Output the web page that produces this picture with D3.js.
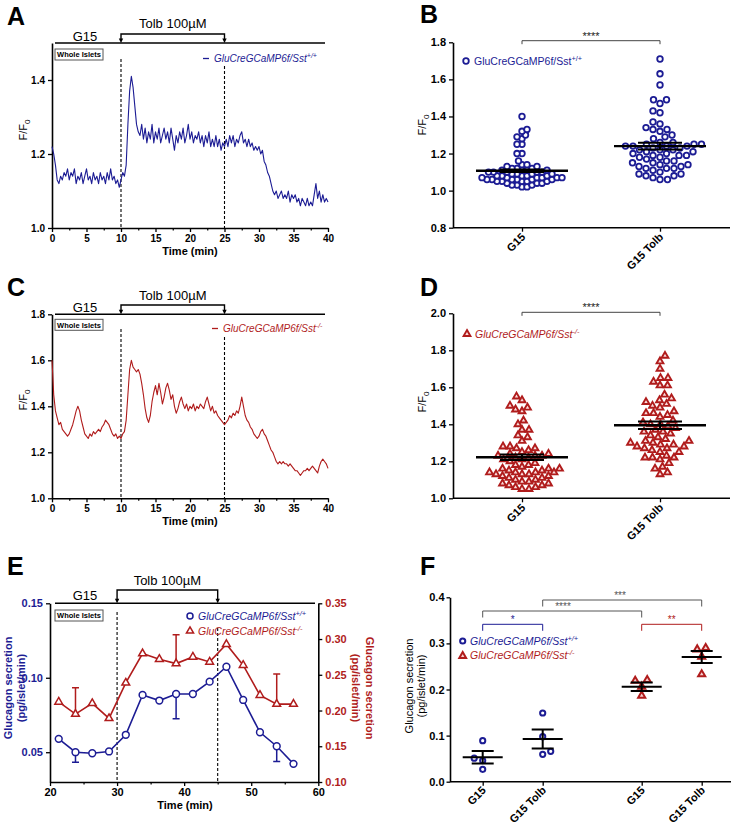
<!DOCTYPE html>
<html><head><meta charset="utf-8">
<script src="https://cdn.jsdelivr.net/npm/d3@7"></script>
<style>body{margin:0;background:#fff} svg{font-family:"Liberation Sans",Arial,sans-serif}</style>
</head><body><svg id="c" width="733" height="825"></svg>
<script>
const BLUE="#1c1c94", RED="#b01c1c";
// ---- Data ----
const traceDt = 0.25; // min between samples
const traceA = [1.22,1.20,1.17,1.13,1.12,1.14,1.13,1.15,1.14,1.16,1.13,1.15,1.14,1.16,1.12,1.14,1.13,1.15,1.12,1.14,1.16,1.13,1.14,1.12,1.15,1.13,1.14,1.12,1.15,1.13,1.14,1.12,1.15,1.13,1.16,1.13,1.14,1.12,1.13,1.11,1.13,1.15,1.14,1.17,1.28,1.37,1.41,1.38,1.33,1.28,1.26,1.25,1.28,1.24,1.27,1.23,1.26,1.24,1.28,1.23,1.26,1.24,1.27,1.23,1.25,1.27,1.24,1.26,1.23,1.27,1.24,1.21,1.25,1.23,1.26,1.24,1.27,1.23,1.25,1.28,1.24,1.26,1.23,1.25,1.24,1.26,1.23,1.25,1.22,1.25,1.23,1.26,1.22,1.24,1.22,1.25,1.22,1.24,1.21,1.23,1.22,1.24,1.22,1.25,1.23,1.25,1.22,1.24,1.23,1.25,1.26,1.23,1.24,1.22,1.24,1.22,1.23,1.21,1.22,1.21,1.22,1.20,1.21,1.18,1.17,1.15,1.14,1.12,1.10,1.09,1.10,1.08,1.09,1.10,1.08,1.09,1.08,1.10,1.07,1.09,1.08,1.09,1.07,1.08,1.06,1.08,1.07,1.06,1.08,1.06,1.07,1.06,1.09,1.12,1.08,1.10,1.07,1.09,1.07,1.08,1.07];
const traceC = [1.60,1.45,1.38,1.35,1.32,1.33,1.30,1.29,1.28,1.27,1.28,1.30,1.32,1.35,1.38,1.40,1.38,1.34,1.31,1.28,1.27,1.26,1.28,1.27,1.29,1.28,1.29,1.30,1.29,1.31,1.32,1.34,1.33,1.32,1.30,1.28,1.27,1.28,1.26,1.27,1.26,1.28,1.29,1.34,1.45,1.56,1.60,1.57,1.56,1.55,1.56,1.54,1.50,1.45,1.39,1.35,1.33,1.36,1.42,1.46,1.49,1.45,1.50,1.46,1.41,1.44,1.48,1.50,1.47,1.43,1.45,1.40,1.37,1.39,1.42,1.44,1.41,1.39,1.41,1.38,1.40,1.39,1.41,1.38,1.40,1.39,1.41,1.40,1.39,1.42,1.44,1.41,1.38,1.40,1.37,1.38,1.36,1.35,1.34,1.33,1.32,1.33,1.34,1.36,1.35,1.37,1.36,1.38,1.37,1.40,1.44,1.40,1.36,1.34,1.33,1.31,1.30,1.28,1.27,1.26,1.27,1.29,1.30,1.28,1.27,1.25,1.23,1.21,1.20,1.18,1.16,1.15,1.16,1.15,1.16,1.15,1.15,1.14,1.15,1.14,1.13,1.12,1.12,1.11,1.10,1.11,1.12,1.12,1.13,1.12,1.13,1.14,1.13,1.12,1.11,1.14,1.16,1.17,1.16,1.15,1.13];

const scatterCats = ["G15","G15 Tolb"];
const bG15 = [1.40,1.33,1.32,1.30,1.29,1.28,1.25,1.25,1.20,1.20,1.16,1.14,1.14,1.13,1.13,1.12,1.12,1.12,1.11,1.11,1.11,1.11,1.10,1.10,1.10,1.10,1.10,1.09,1.09,1.09,1.09,1.08,1.08,1.08,1.08,1.08,1.07,1.07,1.07,1.07,1.07,1.07,1.06,1.06,1.06,1.06,1.06,1.06,1.05,1.05,1.05,1.05,1.05,1.04,1.04,1.04,1.03,1.03,1.03,1.02,1.02];
const bTolb = [1.71,1.63,1.57,1.49,1.49,1.47,1.43,1.42,1.37,1.36,1.34,1.33,1.33,1.32,1.30,1.29,1.28,1.26,1.26,1.25,1.25,1.25,1.24,1.24,1.24,1.24,1.23,1.23,1.22,1.22,1.22,1.21,1.21,1.20,1.20,1.19,1.19,1.19,1.18,1.18,1.17,1.16,1.16,1.15,1.15,1.14,1.14,1.13,1.13,1.12,1.12,1.12,1.11,1.10,1.09,1.09,1.08,1.08,1.07,1.06,1.06];
const bMean = [1.107, 1.240], bSem = [0.007, 0.018];
const dG15 = [1.55,1.53,1.50,1.49,1.48,1.47,1.42,1.40,1.37,1.37,1.34,1.33,1.31,1.28,1.28,1.27,1.27,1.26,1.25,1.24,1.24,1.23,1.23,1.23,1.22,1.22,1.21,1.21,1.20,1.19,1.18,1.18,1.17,1.16,1.16,1.16,1.15,1.15,1.14,1.14,1.14,1.14,1.13,1.13,1.13,1.12,1.12,1.11,1.11,1.10,1.10,1.09,1.09,1.08,1.08,1.07,1.07,1.06,1.06,1.05,1.05];
const dTolb = [1.77,1.74,1.70,1.65,1.65,1.63,1.61,1.61,1.56,1.54,1.53,1.52,1.51,1.50,1.49,1.47,1.46,1.46,1.45,1.44,1.42,1.41,1.40,1.40,1.39,1.38,1.37,1.36,1.36,1.35,1.34,1.33,1.32,1.31,1.31,1.30,1.30,1.29,1.29,1.28,1.28,1.27,1.27,1.26,1.25,1.25,1.23,1.22,1.22,1.22,1.21,1.19,1.17,1.16,1.14,1.13];
const dMean = [1.222, 1.395], dSem = [0.015, 0.020];

const eTime = [21.3,23.8,26.3,28.8,31.3,33.8,36.3,38.8,41.3,43.8,46.3,48.8,51.3,53.8,56.3];
const eWT = [0.059,0.050,0.0493,0.0505,0.0617,0.0885,0.0847,0.0891,0.0891,0.0974,0.1074,0.0851,0.0634,0.054,0.0422];
const eWTlow = [null,0.0433,null,null,null,null,null,0.0724,null,null,null,null,null,0.0438,null];
const eKO = [0.212,0.195,0.210,0.189,0.2387,0.2797,0.2718,0.2657,0.275,0.268,0.2927,0.2634,0.2215,0.209,0.209];
const eKOhigh = [null,0.232,null,null,null,null,null,0.306,null,null,null,null,null,0.251,null];

const fCats = ["G15","G15 Tolb","G15","G15 Tolb"];
const fWT = [[0.089,0.051,0.0456,0.0268],[0.149,0.0976,0.0593,0.0658]];
const fKO = [[0.219,0.2206,0.206,0.1866],[0.287,0.290,0.271,0.233]];
const fWTmean = [0.053,0.0926], fWTsem = [0.0134,0.0207];
const fKOmean = [0.206,0.2705], fKOsem = [0.009,0.013];

// ---- Helpers ----
const svg = d3.select("#c");
function styleAxis(g, fs, color, bold=true){
  g.select(".domain").attr("stroke","#000").attr("stroke-width",1.6);
  g.selectAll(".tick line").attr("stroke","#000").attr("stroke-width",1.3);
  g.selectAll(".tick text").attr("font-size",fs).attr("font-weight",bold?"bold":"normal").attr("fill",color).attr("font-family",'"Liberation Sans",Arial,sans-serif');
}
function txt(x,y,s,o={}){
  const t=svg.append("text").attr("x",x).attr("y",y).attr("font-size",o.fs||11)
    .attr("font-weight",o.fw||"normal").attr("fill",o.fill||"#000").attr("text-anchor",o.anchor||"start");
  if(o.italic) t.attr("font-style","italic");
  t.text(s); return t;
}
function genoText(x,y,sup,color,fs,italic){
  const t=svg.append("text").attr("x",x).attr("y",y).attr("font-size",fs).attr("fill",color);
  if(italic) t.attr("font-style","italic");
  t.append("tspan").text("GluCreGCaMP6f/Sst");
  t.append("tspan").attr("dy",-fs*0.4).attr("font-size",fs*0.7).text(sup);
  return t;
}
function ffLabel(x,y){
  const t=svg.append("text").attr("transform",`translate(${x},${y}) rotate(-90)`).attr("text-anchor","middle").attr("font-size",11);
  t.append("tspan").text("F/F");
  t.append("tspan").attr("dy",3).attr("font-size",8).text("0");
}
function arrowDown(x,y){
  svg.append("path").attr("d",`M${x-2.2},${y-4.5}L${x+2.2},${y-4.5}L${x},${y}Z`).attr("fill","#000");
}
function stimulus(x0,x1,xa,xb,yLine,yTop,tolbY,g15x,g15y){
  svg.append("line").attr("x1",x0).attr("x2",x1).attr("y1",yLine).attr("y2",yLine).attr("stroke","#000").attr("stroke-width",1.6);
  svg.append("path").attr("d",`M${xa},${yLine-4}V${yTop}H${xb}V${yLine-4}`).attr("fill","none").attr("stroke","#000").attr("stroke-width",1.4);
  arrowDown(xa,yLine); arrowDown(xb,yLine);
  txt((xa+xb)/2,tolbY,"Tolb 100µM",{fs:13,anchor:"middle"});
  txt(g15x,g15y,"G15",{fs:13,anchor:"middle"});
}
function wholeIslets(x,y){
  svg.append("rect").attr("x",x).attr("y",y).attr("width",48).attr("height",11).attr("fill","#fff").attr("stroke","#555").attr("stroke-width",1);
  txt(x+24,y+8.3,"Whole Islets",{fs:7.5,fw:"bold",anchor:"middle"});
}
function dashed(x,y0,y1){
  svg.append("line").attr("x1",x).attr("x2",x).attr("y1",y0).attr("y2",y1).attr("stroke","#000").attr("stroke-width",1.1).attr("stroke-dasharray","3,2");
}
function swarm(vals,y,cx,d){
  const pts=vals.map(v=>({v,y:y(v)})).sort((a,b)=>b.y-a.y);
  const placed=[];
  pts.forEach((p,i)=>{
    let x=0;
    outer: for(let k=0;k<400;k++){
      const c=k===0?[0]:(i%2?[k*0.5,-k*0.5]:[-k*0.5,k*0.5]);
      for(const cc of c){
        if(placed.every(q=>(q.dx-cc)**2+(q.y-p.y)**2>=d*d)){x=cc;break outer;}
      }
    }
    p.dx=x; placed.push(p);
  });
  return placed.map(p=>({v:p.v,x:cx+p.dx,y:p.y}));
}
function panelLetter(x,y,s){ txt(x,y,s,{fs:25,fw:"bold"}); }

// ---- Trace panels A & C ----
function tracePanel(vals,yDom,yTop,yBot,yTicks,color,cfg){
  const x=d3.scaleLinear().domain([0,40]).range([52,328]);
  const y=d3.scaleLinear().domain(yDom).range([yBot,yTop]);
  const gx=svg.append("g").attr("transform",`translate(0,${yBot})`)
    .call(d3.axisBottom(x).tickValues(d3.range(0,41,5)).tickSize(4).tickSizeOuter(0).tickFormat(d3.format("d")));
  styleAxis(gx,10,"#000");
  svg.append("g").attr("transform",`translate(0,${yBot})`)
    .call(d3.axisBottom(x).tickValues(d3.range(2.5,40,5)).tickSize(2.5).tickFormat("")).call(g=>g.select(".domain").remove())
    .selectAll("line").attr("stroke","#000").attr("stroke-width",1.2);
  const gy=svg.append("g").attr("transform","translate(52,0)")
    .call(d3.axisLeft(y).tickValues(yTicks).tickSize(4).tickSizeOuter(0).tickFormat(d3.format(".1f")));
  styleAxis(gy,10,"#000");
  dashed(x(10),cfg.d1,yBot); dashed(x(25),cfg.d2,yBot);
  const line=d3.line().x((d,i)=>x(i*traceDt)).y(d=>y(d));
  svg.append("path").datum(vals).attr("d",line).attr("fill","none").attr("stroke",color).attr("stroke-width",1.1).attr("stroke-linejoin","round");
  stimulus(55,325,x(10),x(25),yTop,cfg.bt,cfg.tolbY,85,cfg.g15y);
  wholeIslets(55,yTop+cfg.wi);
  txt(190,yBot+27,"Time (min)",{fs:11,fw:"bold",anchor:"middle"});
  ffLabel(27,cfg.ffy);
  svg.append("line").attr("x1",cfg.lx).attr("x2",cfg.lx+6).attr("y1",cfg.ly-3.5).attr("y2",cfg.ly-3.5).attr("stroke",color).attr("stroke-width",1.3);
  genoText(cfg.lx+11,cfg.ly,cfg.sup,color,10,true);
}
tracePanel(traceA,[1.0,1.5],43,228,[1.0,1.2,1.4],BLUE,{d1:59,d2:66,bt:34,tolbY:28,g15y:41,wi:6,ffy:130,lx:203,ly:62,sup:"+/+"});
tracePanel(traceC,[1.0,1.8],314.3,498.3,[1.0,1.2,1.4,1.6,1.8],RED,{d1:329,d2:337,bt:305,tolbY:300,g15y:312,wi:5,ffy:400,lx:212,ly:332,sup:"-/-"});
panelLetter(7,25,"A"); panelLetter(7,296,"C");

// ---- Scatter panels B & D ----
function scatterPanel(g15,tolb,means,sems,yDom,yTop,yBot,yTicks,color,shape,cfg){
  const x=d3.scalePoint().domain(scatterCats).range([522,660]);
  const y=d3.scaleLinear().domain(yDom).range([yBot,yTop]);
  const gx=svg.append("g").attr("transform",`translate(0,${yBot})`).call(d3.axisBottom(x).tickSize(4).tickSizeOuter(0).tickFormat(""));
  styleAxis(gx,10,"#000");
  gx.select(".domain").attr("d",`M453,0H730`);
  const gy=svg.append("g").attr("transform","translate(453,0)")
    .call(d3.axisLeft(y).tickValues(yTicks).tickSize(4).tickSizeOuter(0).tickFormat(d3.format(".1f")));
  styleAxis(gy,11,"#000");
  scatterCats.forEach(c=>{
    const cx=x(c);
    svg.append("text").attr("transform",`translate(${cx+4},${yBot+10}) rotate(-45)`).attr("text-anchor","end")
      .attr("font-size",11).attr("font-weight","bold").text(c);
  });
  [g15,tolb].forEach((vals,i)=>{
    const pts=swarm(vals,y,x(scatterCats[i]),cfg.dd[i]);
    if(shape==="circle"){
      svg.append("g").selectAll("circle").data(pts).join("circle").attr("cx",d=>d.x).attr("cy",d=>d.y).attr("r",2.8)
        .attr("fill","#fff").attr("stroke",color).attr("stroke-width",1.8);
    } else {
      svg.append("g").selectAll("path").data(pts).join("path").attr("d",d3.symbol(d3.symbolTriangle,20)())
        .attr("transform",d=>`translate(${d.x},${d.y})`).attr("fill","#fbdcdc").attr("stroke",color).attr("stroke-width",1.9);
    }
  });
  means.forEach((m,i)=>{
    const cx=x(scatterCats[i]);
    svg.append("line").attr("x1",cx-46).attr("x2",cx+46).attr("y1",y(m)).attr("y2",y(m)).attr("stroke","#000").attr("stroke-width",2.4);
    [m-sems[i],m+sems[i]].forEach(v=>svg.append("line").attr("x1",cx-22).attr("x2",cx+22).attr("y1",y(v)).attr("y2",y(v)).attr("stroke","#000").attr("stroke-width",2));
    svg.append("line").attr("x1",cx).attr("x2",cx).attr("y1",y(m-sems[i])).attr("y2",y(m+sems[i])).attr("stroke","#000").attr("stroke-width",2);
  });
  const by=cfg.by;
  svg.append("path").attr("d",`M${x("G15")},${by+3.5}V${by}H${x("G15 Tolb")}V${by+3.5}`).attr("fill","none").attr("stroke","#444").attr("stroke-width",1);
  txt(591,by-1,"****",{fs:11,anchor:"middle",fill:"#222"});
  ffLabel(426,cfg.ffy);
}
scatterPanel(bG15,bTolb,bMean,bSem,[0.8,1.8],42.3,227.7,[0.8,1.0,1.2,1.4,1.6,1.8],BLUE,"circle",{by:40.7,ffy:125,dd:[5.0,7.2]});
scatterPanel(dG15,dTolb,dMean,dSem,[1.0,2.0],313.3,498.3,[1.0,1.2,1.4,1.6,1.8,2.0],RED,"triangle",{by:312.3,ffy:402,dd:[6.6,7.4]});
svg.append("circle").attr("cx",466).attr("cy",61).attr("r",2.8).attr("fill","#fff").attr("stroke",BLUE).attr("stroke-width",1.8);
genoText(474,65,"+/+",BLUE,10.5,false);
svg.append("path").attr("d",d3.symbol(d3.symbolTriangle,20)()).attr("transform","translate(467,334)").attr("fill","#fbdcdc").attr("stroke",RED).attr("stroke-width",1.9);
genoText(475,338,"-/-",RED,10.5,true);
panelLetter(420,23,"B"); panelLetter(420,296,"D");

// ---- Panel E ----
{
  const x=d3.scaleLinear().domain([20,60]).range([50,318.3]);
  const yL=d3.scaleLinear().domain([0.03,0.15]).range([782,603.3]);
  const yR=d3.scaleLinear().domain([0.10,0.35]).range([782,603.3]);
  const gx=svg.append("g").attr("transform","translate(0,782)").call(d3.axisBottom(x).tickValues([20,30,40,50,60]).tickSize(4).tickPadding(2).tickSizeOuter(0).tickFormat(d3.format("d")));
  styleAxis(gx,11,"#000");
  svg.append("g").attr("transform","translate(0,782)").call(d3.axisBottom(x).tickValues([25,35,45,55]).tickSize(2.5).tickFormat("")).call(g=>g.select(".domain").remove())
    .selectAll("line").attr("stroke","#000").attr("stroke-width",1.2);
  const gl=svg.append("g").attr("transform","translate(50,0)").call(d3.axisLeft(yL).tickValues([0.05,0.10,0.15]).tickSize(4).tickSizeOuter(0).tickFormat(d3.format(".2f")));
  styleAxis(gl,11,BLUE);
  const gr=svg.append("g").attr("transform","translate(318.3,0)").call(d3.axisRight(yR).tickValues([0.10,0.15,0.20,0.25,0.30,0.35]).tickSize(4).tickSizeOuter(0).tickFormat(d3.format(".2f")));
  styleAxis(gr,11,RED);
  dashed(x(30),612,782); dashed(x(45),628,782);
  stimulus(55,315,x(30),x(45),603.3,590,585,85,600);
  wholeIslets(55,610);
  eTime.forEach((t,i)=>{
    if(eWTlow[i]!=null){
      svg.append("path").attr("d",`M${x(t)},${yL(eWT[i])}V${yL(eWTlow[i])}M${x(t)-3.5},${yL(eWTlow[i])}H${x(t)+3.5}`).attr("stroke",BLUE).attr("stroke-width",1.5).attr("fill","none");
    }
    if(eKOhigh[i]!=null){
      svg.append("path").attr("d",`M${x(t)},${yR(eKO[i])}V${yR(eKOhigh[i])}M${x(t)-3.5},${yR(eKOhigh[i])}H${x(t)+3.5}`).attr("stroke",RED).attr("stroke-width",1.5).attr("fill","none");
    }
  });
  const lw=d3.line().x((d,i)=>x(eTime[i])).y(d=>yL(d));
  const lk=d3.line().x((d,i)=>x(eTime[i])).y(d=>yR(d));
  svg.append("path").datum(eKO).attr("d",lk).attr("fill","none").attr("stroke",RED).attr("stroke-width",1.6);
  svg.append("path").datum(eWT).attr("d",lw).attr("fill","none").attr("stroke",BLUE).attr("stroke-width",1.6);
  svg.append("g").selectAll("path").data(eKO).join("path").attr("d",d3.symbol(d3.symbolTriangle,26)())
    .attr("transform",(d,i)=>`translate(${x(eTime[i])},${yR(d)})`).attr("fill","#fff").attr("stroke",RED).attr("stroke-width",1.5);
  svg.append("g").selectAll("circle").data(eWT).join("circle").attr("cx",(d,i)=>x(eTime[i])).attr("cy",d=>yL(d)).attr("r",3.4)
    .attr("fill","#fff").attr("stroke",BLUE).attr("stroke-width",1.5);
  svg.append("circle").attr("cx",190).attr("cy",616).attr("r",3).attr("fill","#fff").attr("stroke",BLUE).attr("stroke-width",1.5);
  genoText(198,620,"+/+",BLUE,10.5,true);
  svg.append("path").attr("d",d3.symbol(d3.symbolTriangle,22)()).attr("transform","translate(190,631)").attr("fill","#fff").attr("stroke",RED).attr("stroke-width",1.5);
  genoText(198,635,"-/-",RED,10.5,true);
  txt(185,809,"Time (min)",{fs:11,fw:"bold",anchor:"middle"});
  const tl=svg.append("text").attr("transform","translate(12,688) rotate(-90)").attr("text-anchor","middle").attr("font-size",11).attr("font-weight","bold").attr("fill",BLUE);
  tl.append("tspan").attr("x",0).attr("y",0).text("Glucagon secretion");
  tl.append("tspan").attr("x",0).attr("y",13).text("(pg/islet/min)");
  const tr=svg.append("text").attr("transform","translate(366,688) rotate(90)").attr("text-anchor","middle").attr("font-size",11).attr("font-weight","bold").attr("fill",RED);
  tr.append("tspan").attr("x",0).attr("y",0).text("Glucagon secretion");
  tr.append("tspan").attr("x",0).attr("y",14).text("(pg/islet/min)");
  panelLetter(7,575,"E");
}

// ---- Panel F ----
{
  const pos=[0,1,2.65,3.65];
  const x=d3.scaleLinear().domain([0,3.65]).range([482.7,701.7]);
  const y=d3.scaleLinear().domain([0,0.4]).range([781.7,597.3]);
  const gx=svg.append("g").attr("transform","translate(0,781.7)").call(d3.axisBottom(x).tickValues(pos).tickSize(4).tickSizeOuter(0).tickFormat(""));
  styleAxis(gx,10,"#000");
  gx.select(".domain").attr("d","M450,0H731");
  const gy=svg.append("g").attr("transform","translate(450,0)").call(d3.axisLeft(y).tickValues([0,0.1,0.2,0.3,0.4]).tickSize(3.5).tickPadding(2).tickSizeOuter(0).tickFormat(d3.format(".1f")));
  styleAxis(gy,11,"#000");
  fCats.forEach((c,i)=>{
    svg.append("text").attr("transform",`translate(${x(pos[i])+4},${791}) rotate(-45)`).attr("text-anchor","end")
      .attr("font-size",11).attr("font-weight","bold").text(c);
  });
  const groups=[[fWT,fWTmean,fWTsem,BLUE,0],[fKO,fKOmean,fKOsem,RED,2]];
  groups.forEach(([vals,means,sems,col,off])=>{
    vals.forEach((vs,j)=>{
      const cx=x(pos[off+j]);
      const pts=swarm(vs,y,cx,8.5);
      if(col===BLUE){
        svg.append("g").selectAll("circle").data(pts).join("circle").attr("cx",d=>d.x).attr("cy",d=>d.y).attr("r",2.6)
          .attr("fill","#fff").attr("stroke",col).attr("stroke-width",2);
      } else {
        svg.append("g").selectAll("path").data(pts).join("path").attr("d",d3.symbol(d3.symbolTriangle,22)())
          .attr("transform",d=>`translate(${d.x},${d.y})`).attr("fill","#f6d0d0").attr("stroke",col).attr("stroke-width",2);
      }
      const m=means[j], s=sems[j];
      svg.append("line").attr("x1",cx-20).attr("x2",cx+20).attr("y1",y(m)).attr("y2",y(m)).attr("stroke","#000").attr("stroke-width",2);
      svg.append("path").attr("d",`M${cx-11},${y(m+s)}H${cx+11}M${cx-11},${y(m-s)}H${cx+11}M${cx},${y(m+s)}V${y(m-s)}`).attr("stroke","#000").attr("stroke-width",2).attr("fill","none");
    });
  });
  function bracket(i0,i1,yy,col,lab,lx){
    svg.append("path").attr("d",`M${x(pos[i0])},${yy+6.5}V${yy}H${x(pos[i1])}V${yy+6.5}`).attr("fill","none").attr("stroke",col).attr("stroke-width",1);
    txt(lx,yy-1.5,lab,{fs:10,anchor:"middle",fill:col});
  }
  bracket(1,3,600,"#555","***",620);
  bracket(0,2,611,"#555","****",563);
  bracket(0,1,624.3,BLUE,"*",512.7);
  bracket(2,3,624.3,RED,"**",671.7);
  svg.append("circle").attr("cx",462.7).attr("cy",641).attr("r",2.6).attr("fill","#fff").attr("stroke",BLUE).attr("stroke-width",2);
  genoText(470,645,"+/+",BLUE,10.5,true);
  svg.append("path").attr("d",d3.symbol(d3.symbolTriangle,20)()).attr("transform","translate(462.7,656)").attr("fill","#f6d0d0").attr("stroke",RED).attr("stroke-width",2);
  genoText(470,659,"-/-",RED,10.5,true);
  const tf=svg.append("text").attr("transform","translate(413,686) rotate(-90)").attr("text-anchor","middle").attr("font-size",11);
  tf.append("tspan").attr("x",0).attr("y",0).text("Glucagon secretion");
  tf.append("tspan").attr("x",0).attr("y",12).text("(pg/islet/min)");
  panelLetter(420,575,"F");
}
</script></body></html>
